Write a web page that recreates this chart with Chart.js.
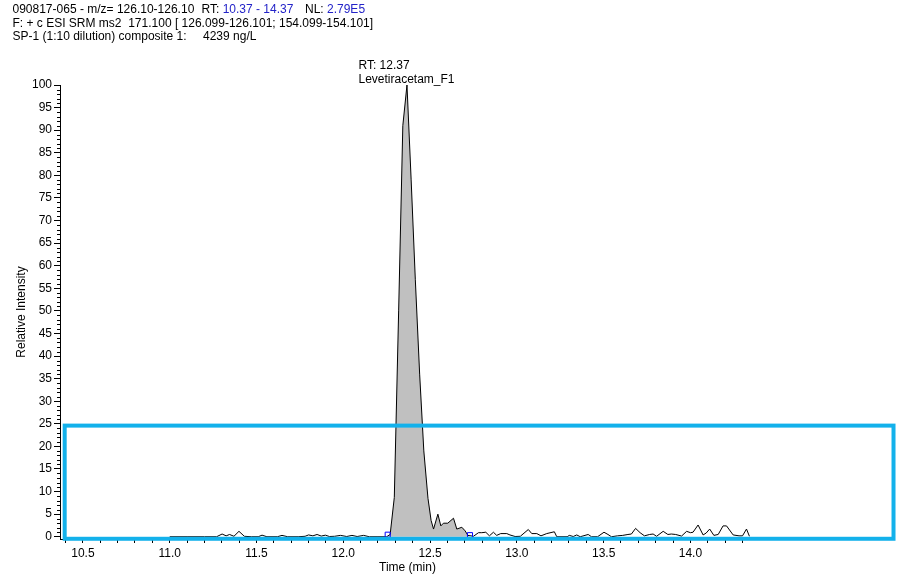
<!DOCTYPE html>
<html><head><meta charset="utf-8">
<script src="https://cdn.jsdelivr.net/npm/chart.js@4.4.1/dist/chart.umd.min.js"></script>
<style>
html,body{margin:0;padding:0;background:#fff;}
#wrap{position:relative;width:897px;height:578px;overflow:hidden;background:#fff;}
canvas{position:absolute;left:0;top:0;}
.hdr{position:absolute;font-family:'Liberation Sans',Arial,sans-serif;font-size:12px;white-space:pre;color:#000;line-height:13px;}
.blue{color:#2323c8;}
</style></head><body>
<div id="wrap"><canvas id="c" width="897" height="578"></canvas></div>
<script>
// ---- header texts ----
const fileId = '090817-065';
const mzRange = '126.10-126.10';
const rtRangeText = '10.37 - 14.37';
const nlText = '2.79E5';
const scanFilter = 'F: + c ESI SRM ms2  171.100 [ 126.099-126.101; 154.099-154.101]';
const sampleName = 'SP-1 (1:10 dilution) composite 1:';
const amountText = '4239 ng/L';
const compoundName = 'Levetiracetam_F1';

// ---- chromatogram data (time in min, relative intensity %) ----
const times = [
  11.00, 11.10, 11.20, 11.27, 11.302, 11.325, 11.345, 11.37, 11.399, 11.43,
  11.47, 11.51, 11.532, 11.56, 11.62, 11.647, 11.68, 11.74, 11.78, 11.80,
  11.825, 11.849, 11.873, 11.897, 11.92, 11.95, 11.984, 12.02, 12.05, 12.08,
  12.117, 12.15, 12.20, 12.25, 12.270, 12.294, 12.319, 12.343, 12.367, 12.391,
  12.415, 12.440, 12.464, 12.488, 12.506, 12.520, 12.545, 12.562, 12.577, 12.602,
  12.635, 12.654, 12.683, 12.702, 12.718, 12.750, 12.779, 12.798, 12.821, 12.842,
  12.865, 12.884, 12.907, 12.942, 12.960, 12.990, 13.020, 13.066, 13.086, 13.115,
  13.139, 13.172, 13.216, 13.230, 13.290, 13.302, 13.325, 13.345, 13.365, 13.411,
  13.430, 13.465, 13.502, 13.525, 13.545, 13.580, 13.610, 13.640, 13.660, 13.684,
  13.710, 13.735, 13.765, 13.785, 13.805, 13.843, 13.870, 13.890, 13.915, 13.949,
  13.978, 14.000, 14.015, 14.044, 14.073, 14.090, 14.111, 14.135, 14.160, 14.188,
  14.208, 14.246, 14.280, 14.300, 14.323, 14.340
];
const intensities = [
  0, 0, 0, 0, 0.6, 0.2, 0.5, 0.1, 1.2, 0.1,
  0, 0, 0.35, 0, 0, 0.3, 0, 0, 0.1, 0.4,
  0.2, 0.5, 0.15, 0.35, 0.05, 0.1, 0.3, 0.05, 0.3, 0.05,
  0.3, 0, 0, 0, 0.5, 8.7, 50, 91, 100, 79,
  57, 36, 19, 8.5, 3.6, 1.7, 5.0, 2.4, 3.0, 3.0,
  4.1, 1.7, 2.1, 1.3, 0.3, 0.1, 0.9, 0.9, 1.0, 0.2,
  1.0, 0.3, 0.7, 0.7, 0.4, 0.05, 0.1, 1.6, 0.7, 0.7,
  0.2, 0.7, 1.1, 0, 0, 0.3, 0.05, 0.4, 0, 0.5,
  0, 0, 1.0, 0.5, 0, 0.2, 0.3, 0.5, 0.6, 1.85,
  0.9, 0.2, 0.5, 0.6, 0.1, 1.2, 0.5, 0.6, 0.5, 0.15,
  1.2, 0.9, 1.0, 2.6, 0.4, 0.8, 1.7, 0.3, 0.5, 2.4,
  2.4, 0.4, 0.2, 0.2, 1.7, 0.1
];
// integration limits (peak start / end markers)
const peakLimitTimes = [12.256, 12.730];
const peakLimitLevels = [0.45, 0.35];
// highlight box in data units: [xMin, xMax], [yMin, yMax]
const boxTimes = [10.395, 15.17];
const boxLevels = [-0.45, 24.6];
// axis ranges
const timeRange = [10.368, 14.372];
const intensityRange = [-0.5, 100];

// ---- header (HTML text) ----
const wrap = document.getElementById('wrap');
function addText(html, left, top) {
  const d = document.createElement('div');
  d.className = 'hdr';
  d.style.left = left + 'px';
  d.style.top = top + 'px';
  d.innerHTML = html;
  wrap.appendChild(d);
}
addText(fileId + ' - m/z= ' + mzRange, 12.5, 3);
addText('RT: <span class="blue">' + rtRangeText + '</span>', 201.5, 3);
addText('NL: <span class="blue">' + nlText + '</span>', 305, 3);
addText(scanFilter, 12.5, 17);
addText(sampleName, 12.5, 30);
addText(amountText, 203, 30);

// ---- build datasets ----
const trace = times.map((t, i) => ({x: t, y: intensities[i]}));
const peakArea = [{x: peakLimitTimes[0], y: 0}]
  .concat(trace.filter(p => p.x > peakLimitTimes[0] && p.x < peakLimitTimes[1]))
  .concat([{x: peakLimitTimes[1], y: 0}]);
const markers = peakLimitTimes.map((t, i) => ({x: t, y: peakLimitLevels[i]}));

const FONT = "'Liberation Sans', Arial, sans-serif";

const decorPlugin = {
  id: 'decor',
  afterDraw(chart) {
    const ctx = chart.ctx;
    const xs = chart.scales.x, ys = chart.scales.y;
    const ca = chart.chartArea;
    ctx.save();
    // minor y ticks
    ctx.strokeStyle = '#000';
    ctx.lineWidth = 1;
    ctx.beginPath();
    for (let v = 0; v <= 100; v++) {
      if (v % 5 === 0) continue;
      const py = Math.round(ys.getPixelForValue(v)) + 0.5;
      ctx.moveTo(ca.left - 3, py);
      ctx.lineTo(ca.left, py);
    }
    ctx.stroke();
    // axis titles
    ctx.fillStyle = '#000';
    ctx.font = '12px ' + FONT;
    ctx.textAlign = 'center';
    ctx.textBaseline = 'middle';
    ctx.fillText('Time (min)', (ca.left + ca.right) / 2, 568);
    ctx.save();
    ctx.translate(22, (ca.top + ca.bottom) / 2);
    ctx.rotate(-Math.PI / 2);
    ctx.fillText('Relative Intensity', 0, 0);
    ctx.restore();
    // peak label
    let maxI = 0;
    intensities.forEach((v, i) => { if (v > intensities[maxI]) maxI = i; });
    const ax = xs.getPixelForValue(times[maxI]);
    const ay = ys.getPixelForValue(intensities[maxI]);
    ctx.textAlign = 'left';
    ctx.fillText('RT: ' + times[maxI].toFixed(2), ax - 48.5, ay - 19);
    ctx.fillText(compoundName, ax - 48.5, ay - 5);
    // highlight box
    const x0 = xs.getPixelForValue(boxTimes[0]);
    const x1 = xs.getPixelForValue(boxTimes[1]);
    const y0 = ys.getPixelForValue(boxLevels[1]);
    const y1 = ys.getPixelForValue(boxLevels[0]);
    ctx.strokeStyle = '#13b1eb';
    ctx.lineWidth = 4;
    ctx.strokeRect(x0, y0, x1 - x0, y1 - y0);
    ctx.restore();
  }
};

new Chart(document.getElementById('c'), {
  type: 'line',
  data: {
    datasets: [
      {
        label: 'markers', data: markers, showLine: false, order: -1,
        pointStyle: 'rect', pointRadius: 3.6, pointBorderColor: '#0000ff',
        pointBackgroundColor: 'rgba(0,0,0,0)', pointBorderWidth: 1
      },
      {
        label: 'trace', data: trace, order: 0, borderColor: '#000', borderWidth: 1,
        pointRadius: 0, tension: 0, fill: false
      },
      {
        label: 'area', data: peakArea, order: 2, borderWidth: 0, borderColor: 'rgba(0,0,0,0)',
        backgroundColor: '#c0c0c0', pointRadius: 0, tension: 0, fill: 'origin'
      }
    ]
  },
  options: {
    responsive: false,
    animation: false,
    devicePixelRatio: 1,
    layout: {padding: {top: 85, right: 142, left: 0, bottom: 0}},
    plugins: {legend: {display: false}, tooltip: {enabled: false}, title: {display: false}},
    scales: {
      x: {
        type: 'linear', min: timeRange[0], max: timeRange[1],
        afterFit(s) { s.height = 39; },
        border: {color: '#000', width: 1},
        grid: {drawOnChartArea: false, tickLength: 4, color: '#000'},
        ticks: {
          stepSize: 0.1, includeBounds: false, autoSkip: false, maxRotation: 0,
          color: '#000', font: {family: FONT, size: 12}, padding: 3,
          callback(v) { const r = Math.round(v * 10); return r % 5 === 0 ? (r / 10).toFixed(1) : ''; }
        }
      },
      y: {
        type: 'linear', min: intensityRange[0], max: intensityRange[1],
        afterFit(s) { s.width = 60; },
        border: {color: '#000', width: 1},
        grid: {drawOnChartArea: false, tickLength: 6, color: '#000'},
        ticks: {
          stepSize: 5, includeBounds: false, color: '#000', font: {family: FONT, size: 12}, padding: 2,
          callback(v) { return String(Math.round(v)); }
        }
      }
    }
  },
  plugins: [decorPlugin]
});
</script>
</body></html>
